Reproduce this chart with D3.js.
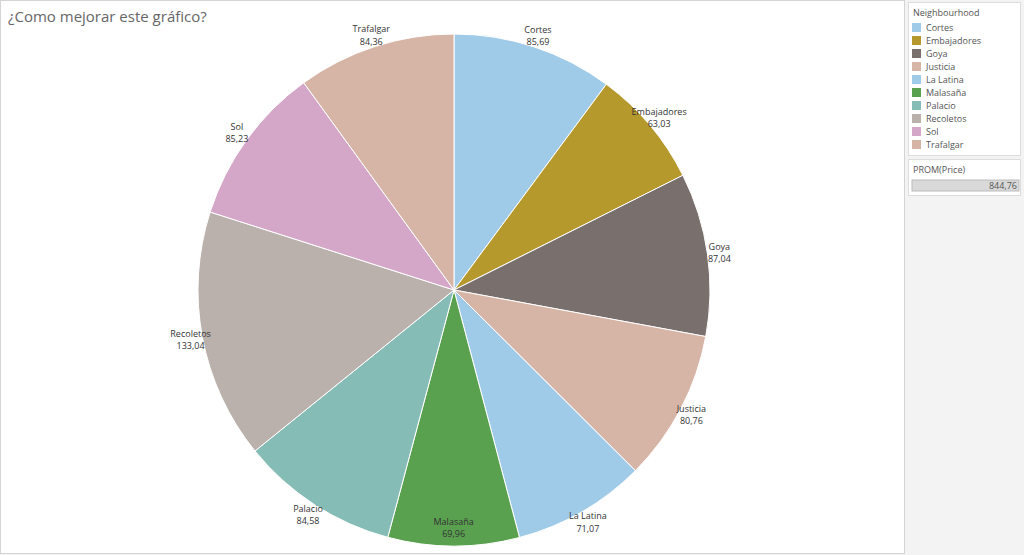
<!DOCTYPE html>
<html><head><meta charset="utf-8">
<script src="https://cdn.jsdelivr.net/npm/d3@7"></script>
<style>
body{margin:0;background:#f3f3f3;font-family:"Open Sans",Lato,sans-serif;}
</style></head>
<body><div id="chart"></div>
<script>
const neighbourhoods = ["Cortes","Embajadores","Goya","Justicia","La Latina","Malasaña","Palacio","Recoletos","Sol","Trafalgar"];
const prices = [85.69,63.03,87.04,80.76,71.07,69.96,84.58,133.04,85.23,84.36];
const colors = ["#a0cbe8","#b6992d","#79706e","#d7b5a6","#a0cbe8","#59a14f","#86bcb6","#bab0ac","#d4a6c8","#d7b5a6"];

const width = 1024, height = 555;
const fmt = v => v.toFixed(2).replace(".", ",");
const data = neighbourhoods.map((n, i) => ({name: n, value: prices[i], color: colors[i]}));
const total = d3.sum(prices);

const svg = d3.select("#chart").append("svg").attr("width", width).attr("height", height);

// main panel
svg.append("rect").attr("x", 0.5).attr("y", 0.5).attr("width", 904).attr("height", 553)
    .attr("fill", "#fff").attr("stroke", "#d4d4d4");
svg.append("text").attr("x", 8).attr("y", 22).attr("font-size", 15).attr("fill", "#666")
    .text("¿Como mejorar este gráfico?");

const cx = 454, cy = 290, r = 256;
const pie = d3.pie().sort(null).value(d => d.value);
const arc = d3.arc().innerRadius(0).outerRadius(r);
const labelArc = d3.arc().innerRadius(268).outerRadius(268);
const g = svg.append("g").attr("transform", `translate(${cx},${cy})`);
const arcs = pie(data);

g.selectAll("path").data(arcs).join("path")
    .attr("d", arc).attr("fill", d => d.data.color)
    .attr("stroke", "#fff").attr("stroke-width", 1);

const lab = g.selectAll("text").data(arcs).join("text")
    .attr("transform", d => {
        const [x, y] = labelArc.centroid(d);
        return `translate(${x},${Math.min(y, 238)})`;
    })
    .attr("text-anchor", "middle").attr("font-size", 9).attr("fill", "#333");
lab.append("tspan").attr("x", 0).attr("dy", "-0.3em").text(d => d.data.name);
lab.append("tspan").attr("x", 0).attr("dy", "1.35em").text(d => fmt(d.data.value));

// legend
const lg = svg.append("g").attr("transform", "translate(908,2)");
lg.append("rect").attr("x", 0.5).attr("y", 0.5).attr("width", 112).attr("height", 153)
    .attr("fill", "#fff").attr("stroke", "#ddd");
lg.append("text").attr("x", 5).attr("y", 14).attr("font-size", 9).attr("fill", "#555").text("Neighbourhood");
const y = d3.scaleBand().domain(neighbourhoods).range([21, 151]);
const items = lg.selectAll("g.item").data(data).join("g").attr("class", "item")
    .attr("transform", d => `translate(4,${y(d.name)})`);
items.append("rect").attr("width", 9).attr("height", 9).attr("fill", d => d.color);
items.append("text").attr("x", 14).attr("y", 8).attr("font-size", 9).attr("fill", "#555").text(d => d.name);

// PROM(Price) box
const pb = svg.append("g").attr("transform", "translate(908,159)");
pb.append("rect").attr("x", 0.5).attr("y", 0.5).attr("width", 112).attr("height", 36)
    .attr("fill", "#fff").attr("stroke", "#ddd");
pb.append("text").attr("x", 5).attr("y", 14).attr("font-size", 9).attr("fill", "#555").text("PROM(Price)");
const xs = d3.scaleLinear().domain([0, total]).range([0, 107]);
pb.append("rect").attr("x", 4).attr("y", 21).attr("width", xs(total)).attr("height", 11)
    .attr("fill", "#d9d9d9").attr("stroke", "#bbb");
pb.append("text").attr("x", 109).attr("y", 30).attr("text-anchor", "end").attr("font-size", 9)
    .attr("fill", "#555").text(fmt(total));
</script></body></html>
